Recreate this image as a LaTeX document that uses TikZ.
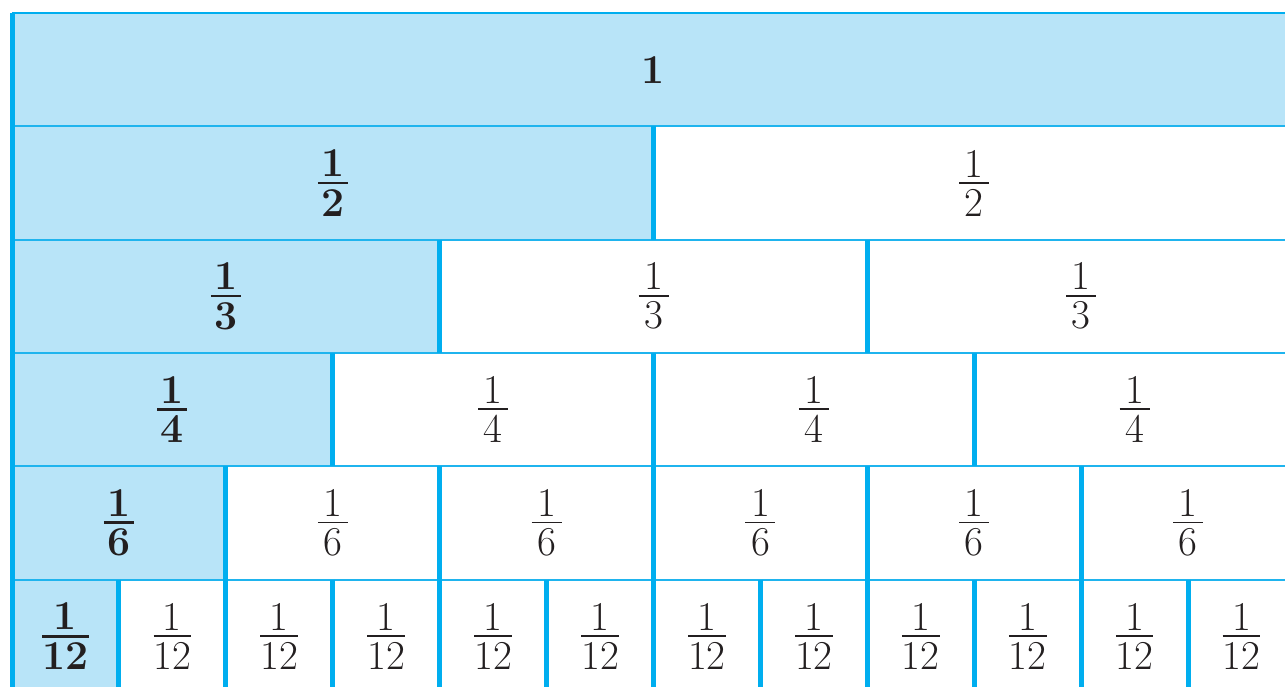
\documentclass[tikz,border=0pt]{standalone}
\definecolor{cellfill}{HTML}{B8E4F8}
\definecolor{edge}{HTML}{00AEEF}
\definecolor{hline}{HTML}{1FB4EE}
\definecolor{txt}{HTML}{231F20}
% text-mode fraction: #1 numerator, #2 denominator, #3 bar thickness
\newcommand\fr[3]{\vbox{\offinterlineskip\halign{\hfil##\hfil\cr
  \hbox to 30pt{}\cr #1\cr
  \noalign{\kern5pt\hrule height #3\kern5pt}
  #2\cr}}}
\newcommand\bfr[1]{{\bfseries\fr{1}{#1}{2.8pt}}}
\newcommand\rfr[1]{\fr{1}{#1}{1.9pt}}
\begin{document}
\begin{tikzpicture}[x=1pt,y=-1pt,
  cellbox/.style={inner sep=0pt, outer sep=0pt},
  lbl/.style={inner sep=0pt, text=txt, font=\fontsize{41}{44}\selectfont},
  vline/.style={draw=edge, line width=5pt},
  hrule/.style={draw=hline, line width=2pt},
  toprule/.style={draw=edge, line width=2.4pt}]
\useasboundingbox (0,0) rectangle (1285,686);
\clip (0,0) rectangle (1285,686);
% cells: row r has n parts
\foreach \nn/\rr in {1/1,2/2,3/3,4/4,6/5,12/6}{
  \pgfmathsetmacro\cw{1283/\nn}
  \pgfmathsetmacro\yc{13+(\rr-0.5)*113.3}
  \foreach \ii in {1,...,\nn}{
    \pgfmathsetmacro\xc{12+(\ii-0.5)*\cw}
    \node[cellbox,minimum width=\cw pt,minimum height=113.3pt]
      (c\nn-\ii) at (\xc,\yc) {};
  }
}
% shaded cells
\fill[cellfill] (c1-1.north west) rectangle (c1-1.south east);
\foreach \nn in {2,3,4,6,12}{
  \fill[cellfill] (c\nn-1.north west) rectangle (c\nn-1.south east);
}
% labels
\node[lbl] (l1-1) at (c1-1.center) {\textbf{1}};
\foreach \nn in {2,3,4,6,12}{
  \node[lbl] (l\nn-1) at (c\nn-1.center) {\bfr{\nn}};
}
\foreach \nn in {2,3,4,6,12}{
  \foreach \ii in {2,...,\nn}{
    \node[lbl] (l\nn-\ii) at (c\nn-\ii.center) {\rfr{\nn}};
  }
}
% horizontal rules
\draw[toprule] (c1-1.north west) -- (c1-1.north east);
\foreach \nn in {2,3,4,6,12}{
  \draw[hrule] (c\nn-1.north west) -- (c\nn-\nn.north east);
}
% vertical separators
\foreach \nn in {2,3,4,6,12}{
  \pgfmathtruncatemacro\mm{\nn-1}
  \foreach \jj in {1,...,\mm}{
    \draw[vline] (c\nn-\jj.north east) -- (c\nn-\jj.south east);
  }
}
\draw[vline] (c1-1.north west) -- (c12-1.south west);
\end{tikzpicture}
\end{document}
